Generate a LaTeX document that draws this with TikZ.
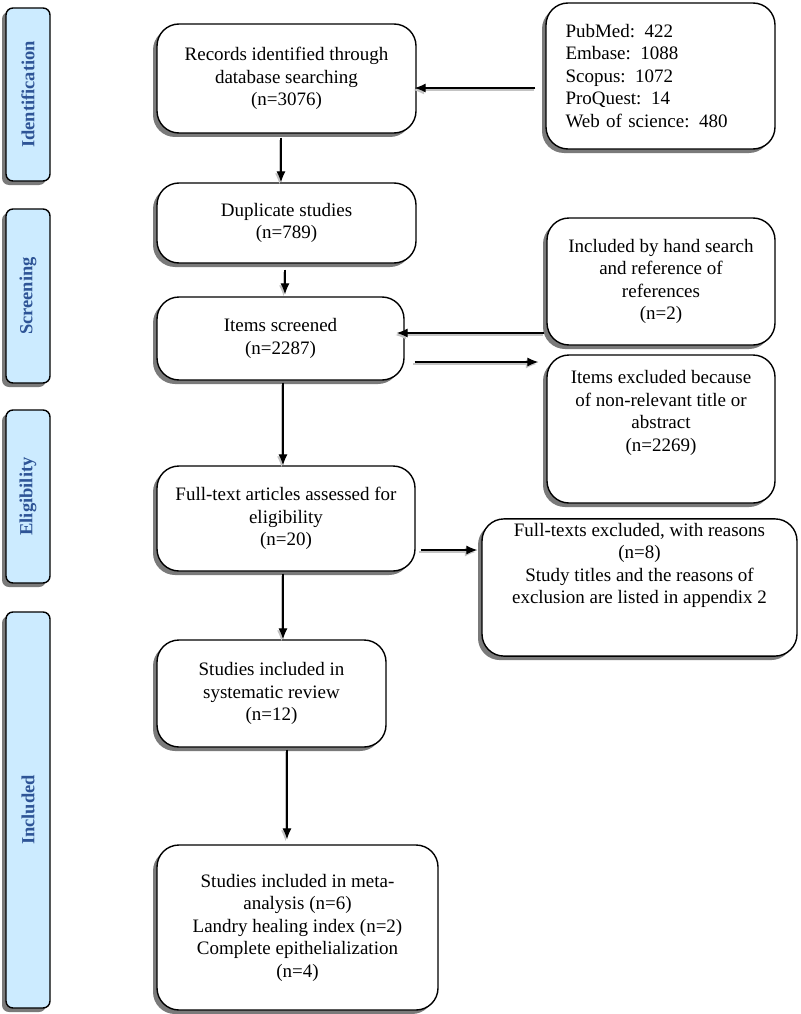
\documentclass[tikz,border=0pt]{standalone}
\usepackage{fontspec}
\setmainfont{Liberation Serif}
\usetikzlibrary{shadows,arrows.meta,calc}
\definecolor{stagefill}{HTML}{CCEBFF}
\definecolor{stagetext}{HTML}{2E5496}
\definecolor{shadowgray}{HTML}{7A7A7A}
\begin{document}
\begin{tikzpicture}[x=1pt,y=1pt,
  boxshadow/.style={drop shadow={shadow xshift=-4pt, shadow yshift=-4pt, opacity=1, fill=shadowgray}},
  box/.style={draw=black, line width=1.4pt, rounded corners=22pt, fill=white, boxshadow,
    align=center, font=\fontsize{19}{22.5}\selectfont, inner sep=4pt},
  stage/.style={draw=black, line width=1.4pt, rounded corners=7pt, fill=stagefill, boxshadow,
    minimum width=44pt, inner sep=0pt, font=\fontsize{18.5}{20}\selectfont\bfseries, text=stagetext},
  arr/.style={line width=1.1pt, -{Latex[length=11pt,width=9pt]},
    preaction={draw=shadowgray!45, line width=1.3pt, transform canvas={xshift=-1.5pt,yshift=-2pt}}}
]
\useasboundingbox (0,0) rectangle (800,-1014);

% stage labels
\node[stage, minimum height=173pt] (ident) at (28,-94.5) {\rotatebox{90}{Identification}};
\node[stage, minimum height=174pt] (screen) at (28,-296) {\rotatebox{90}{Screening}};
\node[stage, minimum height=173pt] (elig) at (28,-496.5) {\rotatebox{90}{Eligibility}};
\node[stage, minimum height=396pt] (incl) at (28,-810) {\rotatebox{90}{Included}};

% main column
\node[box, minimum width=259pt, minimum height=109pt] (rec) at (286.5,-78.5)
  {Records identified through\\database searching\\(n=3076)};
\node[box, minimum width=259pt, minimum height=80pt] (dup) at (286.5,-223)
  {Duplicate studies\\(n=789)};
\node[box, minimum width=247pt, minimum height=83pt] (scr) at (280.5,-338.5)
  {Items screened\\(n=2287)};
\node[box, minimum width=258pt, minimum height=105pt] (ft) at (286,-518.5)
  {Full-text articles assessed for\\eligibility\\(n=20)};
\node[box, minimum width=229pt, minimum height=107pt] (sys) at (271.5,-693.5)
  {Studies included in\\systematic review\\(n=12)};
\node[box, minimum width=281pt, minimum height=165pt] (meta) at (297.5,-927.5)
  {Studies included in meta-\\analysis (n=6)\\Landry healing index (n=2)\\Complete epithelialization\\(n=4)};

% right column
\node[box, minimum width=229pt, minimum height=146pt, text width=190pt, align=left] (pub) at (660.5,-76)
  {PubMed: 422\\Embase: 1088\\Scopus: 1072\\ProQuest: 14\\Web of science: 480};
\node[box, minimum width=228pt, minimum height=127pt] (hand) at (661,-281.5)
  {Included by hand search\\and reference of\\references\\(n=2)};
\node[box, minimum width=228pt, minimum height=148pt] (exc) at (661,-429)
  {Items excluded because\\of non-relevant title or\\abstract\\(n=2269)\\[14pt]};
\node[box, minimum width=315pt, minimum height=137pt] (ftx) at (639.5,-587.5)
  {Full-texts excluded, with reasons\\(n=8)\\Study titles and the reasons of\\exclusion are listed in appendix 2\\[26pt]};

% connector heights
\coordinate (ya) at (0,-88);
\coordinate (yb) at (0,-333);
\coordinate (yc) at (0,-362);
\coordinate (yd) at (0,-550);

% vertical arrows
\draw[arr, shorten <=4pt] ([xshift=-5.5pt]rec.south) -- ([xshift=-5.5pt]dup.north);
\draw[arr, shorten <=6pt, shorten >=2pt] ([xshift=-1.5pt]dup.south) -- ([xshift=4.5pt]scr.north);
\draw[arr, shorten <=2pt] ([xshift=2.5pt]scr.south) -- ([xshift=-3pt]ft.north);
\draw[arr, shorten <=2pt] ([xshift=-3pt]ft.south) -- ([xshift=11.5pt]sys.north);
\draw[arr, shorten <=2pt, shorten >=5pt] ([xshift=15.5pt]sys.south) -- ([xshift=-10.5pt]meta.north);

% horizontal arrows
\draw[arr, shorten <=10pt, shorten >=-2pt] (pub.west |- ya) -- (rec.east |- ya);
\draw[arr, shorten <=2pt, shorten >=-8pt] (hand.west |- yb) -- (scr.east |- yb);
\draw[arr, shorten <=10pt, shorten >=8pt] (scr.east |- yc) -- (exc.west |- yc);
\draw[arr, shorten <=5pt, shorten >=4pt] (ft.east |- yd) -- (ftx.west |- yd);
\end{tikzpicture}
\end{document}
